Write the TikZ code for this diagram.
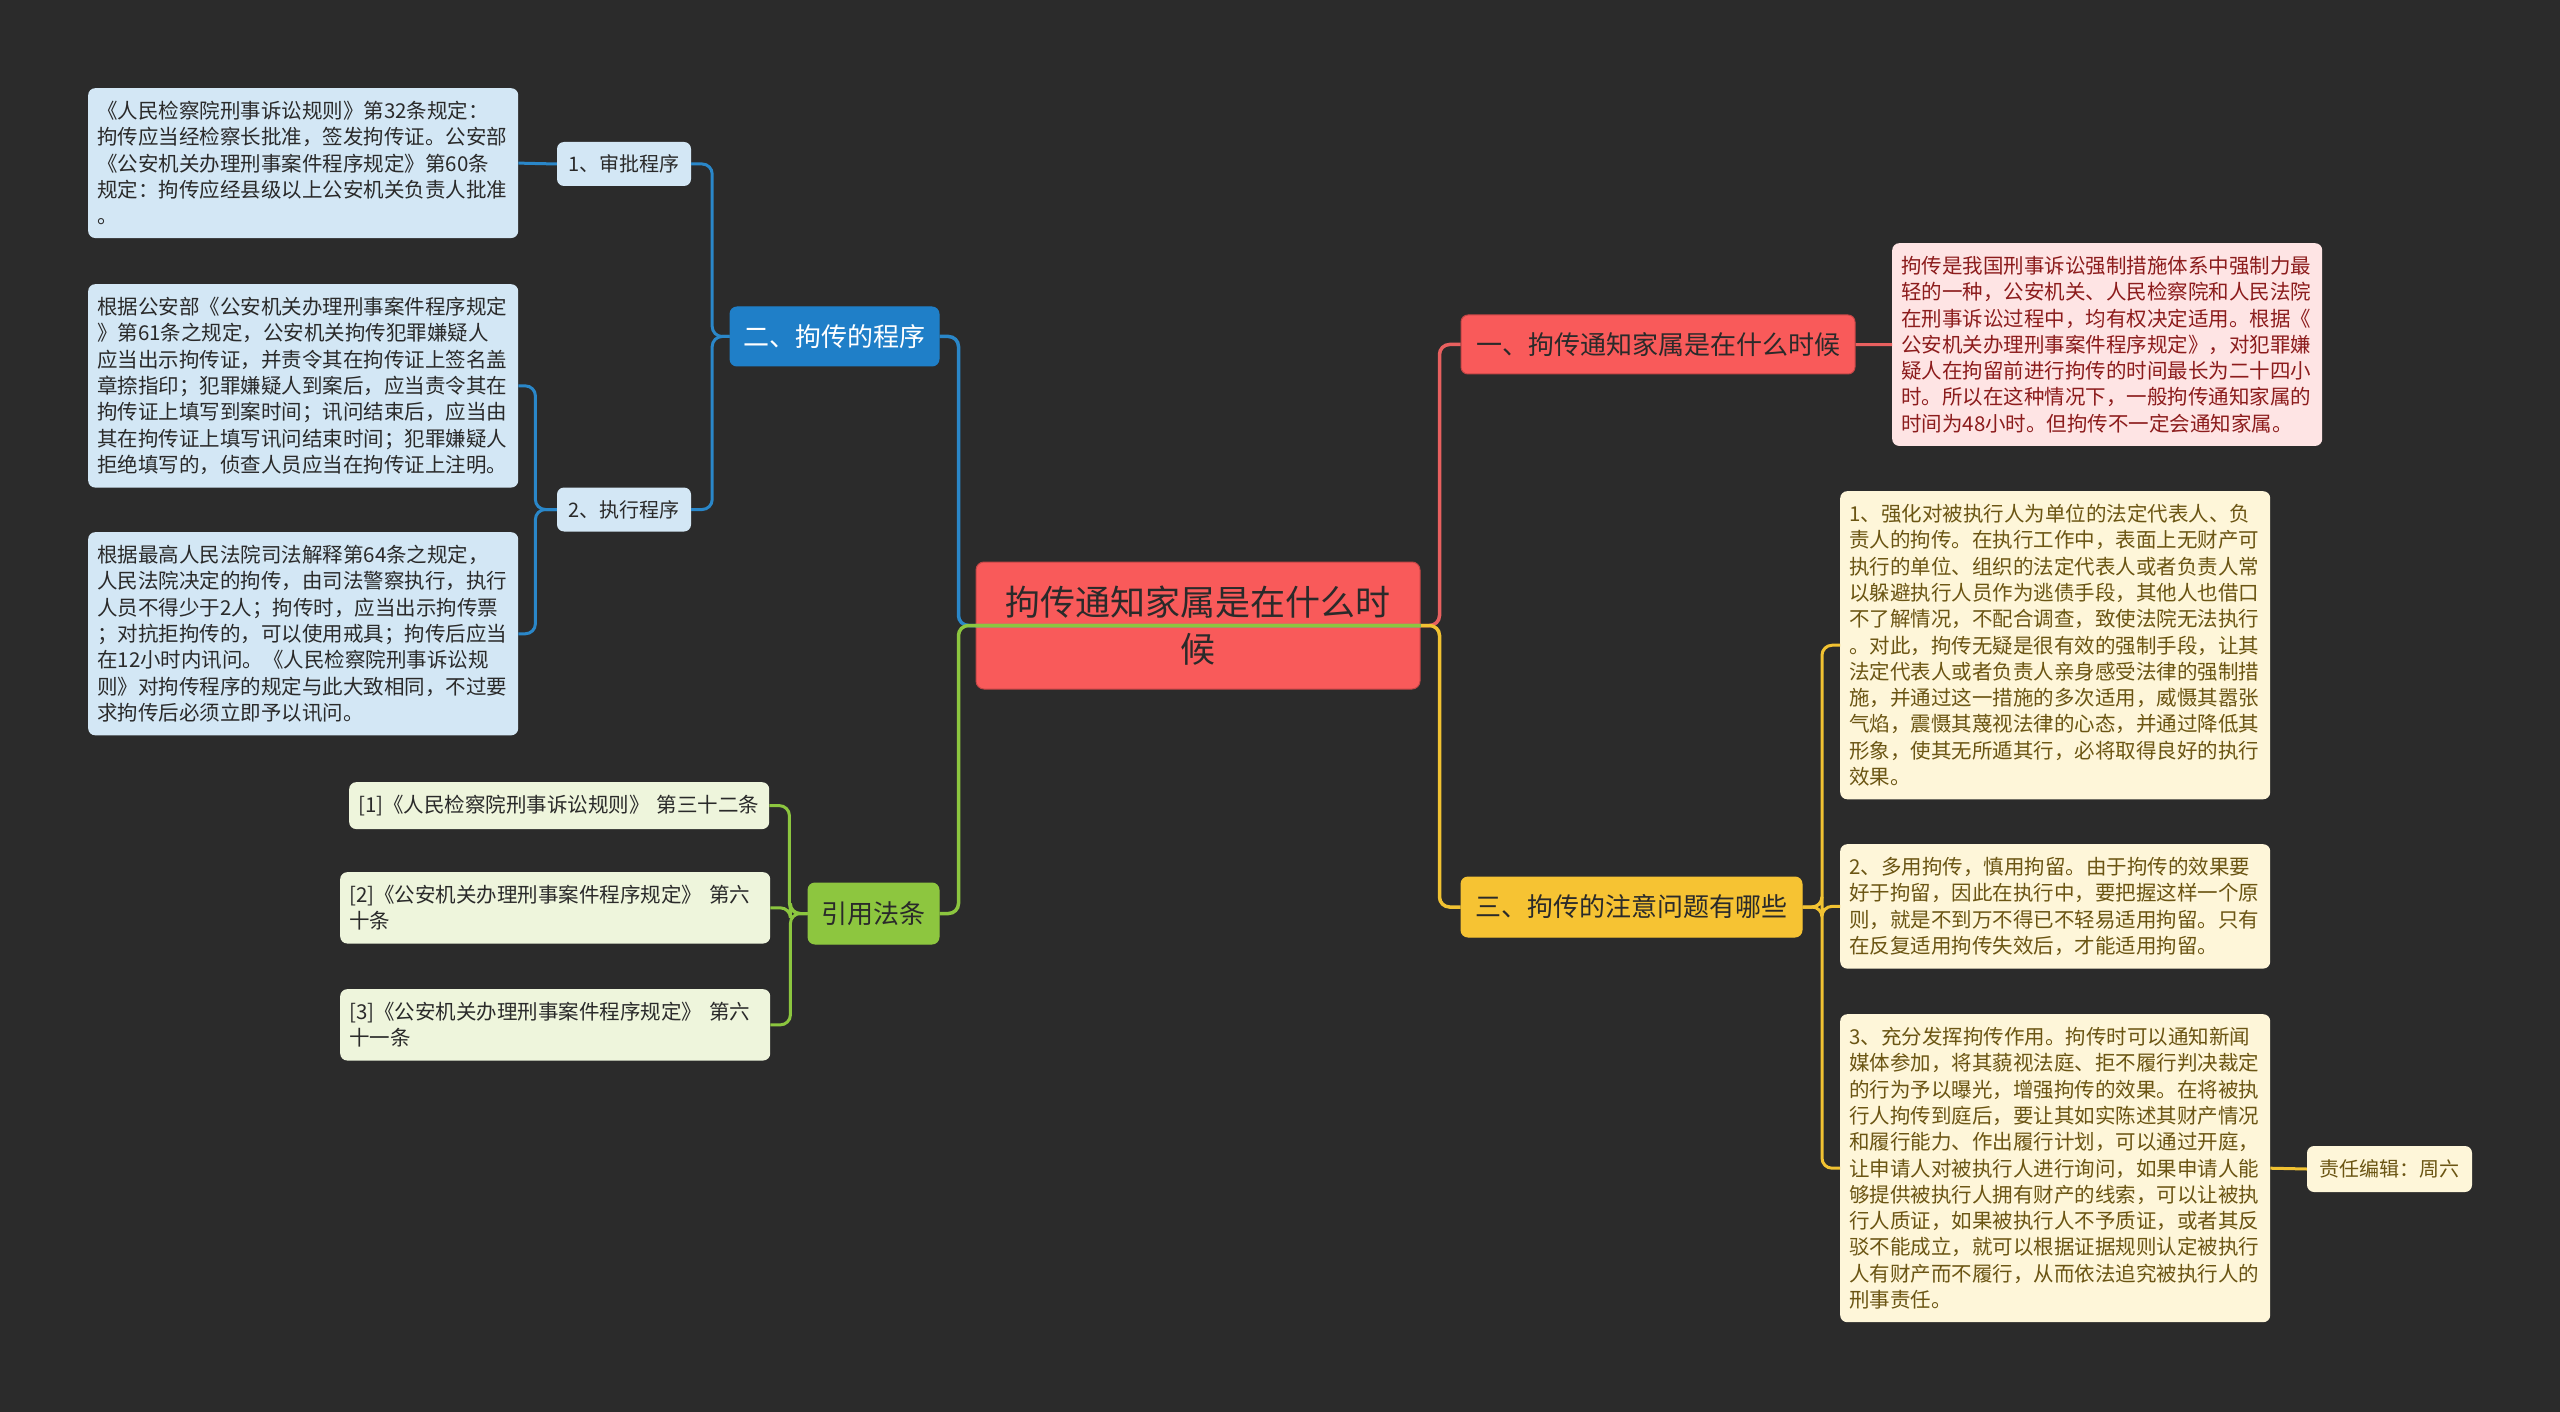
\documentclass[tikz,border=0pt]{standalone}
\usepackage{fontspec}
\setmainfont{Noto Sans CJK SC}
\usetikzlibrary{calc}
\definecolor{bgc}{HTML}{2B2B2B}
\definecolor{rootc}{HTML}{F95A5A}
\definecolor{rootd}{HTML}{C44646}
\definecolor{bluec}{HTML}{1F7FC8}
\definecolor{bluel}{HTML}{2A87C9}
\definecolor{redl}{HTML}{E8605F}
\definecolor{yelc}{HTML}{F6C333}
\definecolor{yell}{HTML}{F1C232}
\definecolor{grnc}{HTML}{8DC63F}
\definecolor{grnl}{HTML}{8CC63F}
\definecolor{lbluef}{HTML}{D3E7F5}
\definecolor{pinkf}{HTML}{FEE4E4}
\definecolor{pinkt}{HTML}{8C1C1C}
\definecolor{creamf}{HTML}{FEF6D9}
\definecolor{creamt}{HTML}{6B5513}
\definecolor{lgrnf}{HTML}{EEF5DC}
\definecolor{darkt}{HTML}{2A2A2A}
\tikzset{
  leafbox/.style={rounded corners=7pt, text width=412pt, align=left, inner xsep=9pt, inner ysep=13pt,
    font=\fontsize{20.5}{26.3}\selectfont, anchor=north west},
  leafblue/.style={leafbox, fill=lbluef, text=darkt},
  leafpink/.style={leafbox, fill=pinkf, text=pinkt},
  leafcream/.style={leafbox, fill=creamf, text=creamt},
  leafgreen/.style={leafbox, fill=lgrnf, text=darkt},
  smallbox/.style={rounded corners=7pt, inner sep=0pt, font=\fontsize{20}{24}\selectfont, align=center},
  topbox/.style={rounded corners=7pt, inner sep=0pt, font=\fontsize{26}{30}\selectfont, align=center, line width=1pt},
  lineone/.style={line width=3.5pt, rounded corners=10pt},
  linetwo/.style={line width=3pt, rounded corners=10pt},
}
\begin{document}
\begin{tikzpicture}[x=1pt,y=-1pt]
\fill[bgc] (0,0) rectangle (2560,1412);
\useasboundingbox (0,0) rectangle (2560,1412);

% root
\node[rounded corners=8pt, fill=rootc, draw=rootd, line width=1pt, minimum width=444pt, minimum height=127pt,
  inner sep=0pt, text width=430pt, align=center, text=darkt, font=\fontsize{35}{47}\selectfont]
  (root) at (1198,625.5) {拘传通知家属是在什么时\\候};

% level 1
\node[topbox, fill=rootc, draw=rootd, text=darkt, minimum width=394pt, minimum height=59pt] (yi) at (1658,344.5) {一、拘传通知家属是在什么时候};
\node[topbox, fill=bluec, draw=bluec, text=white, minimum width=209pt, minimum height=59pt] (er) at (834.5,336.5) {二、拘传的程序};
\node[topbox, fill=yelc, draw=yelc, text=darkt, minimum width=341pt, minimum height=60pt] (san) at (1631.5,907) {三、拘传的注意问题有哪些};
\node[topbox, fill=grnc, draw=grnc, text=darkt, minimum width=131pt, minimum height=61pt] (yy) at (873.5,913.5) {引用法条};

% level 2 (blue)
\node[smallbox, fill=lbluef, text=darkt, minimum width=134pt, minimum height=44pt] (sp1) at (624,164) {1、审批程序};
\node[smallbox, fill=lbluef, text=darkt, minimum width=134pt, minimum height=44pt] (sp2) at (624,509.5) {2、执行程序};

\node[leafblue] (la) at (88,88) {《人民检察院刑事诉讼规则》第32条规定：\\拘传应当经检察长批准，签发拘传证。公安部\\《公安机关办理刑事案件程序规定》第60条\\规定：拘传应经县级以上公安机关负责人批准\\。};
\node[leafblue] (lb) at (88,284) {根据公安部《公安机关办理刑事案件程序规定\\》第61条之规定，公安机关拘传犯罪嫌疑人\\应当出示拘传证，并责令其在拘传证上签名盖\\章捺指印；犯罪嫌疑人到案后，应当责令其在\\拘传证上填写到案时间；讯问结束后，应当由\\其在拘传证上填写讯问结束时间；犯罪嫌疑人\\拒绝填写的，侦查人员应当在拘传证上注明。};
\node[leafblue] (lc) at (88,532) {根据最高人民法院司法解释第64条之规定，\\人民法院决定的拘传，由司法警察执行，执行\\人员不得少于2人；拘传时，应当出示拘传票\\；对抗拒拘传的，可以使用戒具；拘传后应当\\在12小时内讯问。《人民检察院刑事诉讼规\\则》对拘传程序的规定与此大致相同，不过要\\求拘传后必须立即予以讯问。};

% refs
\node[leafgreen, text width=402pt] (r1) at (349,782) {[1]《人民检察院刑事诉讼规则》 第三十二条};
\node[leafgreen] (r2) at (340,872) {[2]《公安机关办理刑事案件程序规定》 第六\\十条};
\node[leafgreen] (r3) at (340,989) {[3]《公安机关办理刑事案件程序规定》 第六\\十一条};

% right leaves
\node[leafpink] (rl) at (1892,243) {拘传是我国刑事诉讼强制措施体系中强制力最\\轻的一种，公安机关、人民检察院和人民法院\\在刑事诉讼过程中，均有权决定适用。根据《\\公安机关办理刑事案件程序规定》，对犯罪嫌\\疑人在拘留前进行拘传的时间最长为二十四小\\时。所以在这种情况下，一般拘传通知家属的\\时间为48小时。但拘传不一定会通知家属。};
\node[leafcream] (y1) at (1840,491) {1、强化对被执行人为单位的法定代表人、负\\责人的拘传。在执行工作中，表面上无财产可\\执行的单位、组织的法定代表人或者负责人常\\以躲避执行人员作为逃债手段，其他人也借口\\不了解情况，不配合调查，致使法院无法执行\\。对此，拘传无疑是很有效的强制手段，让其\\法定代表人或者负责人亲身感受法律的强制措\\施，并通过这一措施的多次适用，威慑其嚣张\\气焰，震慑其蔑视法律的心态，并通过降低其\\形象，使其无所遁其行，必将取得良好的执行\\效果。};
\node[leafcream] (y2) at (1840,844) {2、多用拘传，慎用拘留。由于拘传的效果要\\好于拘留，因此在执行中，要把握这样一个原\\则，就是不到万不得已不轻易适用拘留。只有\\在反复适用拘传失效后，才能适用拘留。};
\node[leafcream] (y3) at (1840,1014) {3、充分发挥拘传作用。拘传时可以通知新闻\\媒体参加，将其藐视法庭、拒不履行判决裁定\\的行为予以曝光，增强拘传的效果。在将被执\\行人拘传到庭后，要让其如实陈述其财产情况\\和履行能力、作出履行计划，可以通过开庭，\\让申请人对被执行人进行询问，如果申请人能\\够提供被执行人拥有财产的线索，可以让被执\\行人质证，如果被执行人不予质证，或者其反\\驳不能成立，就可以根据证据规则认定被执行\\人有财产而不履行，从而依法追究被执行人的\\刑事责任。};
\node[smallbox, fill=creamf, text=creamt, minimum width=165pt, minimum height=46pt] (ed) at (2389.5,1169) {责任编辑：周六};

% level-1 connectors (drawn over the root, as in the reference)
\draw[lineone, redl] (root.west) -| ($(yi.west)+(-21,0)$) -- (yi.west);
\draw[lineone, yell] (root.west) -| ($(san.west)+(-21,0)$) -- (san.west);
\draw[lineone, bluel] (root.east) -| ($(er.east)+(19,0)$) -- (er.east);
\draw[lineone, grnl] (root.east) -| ($(yy.east)+(19,0)$) -- (yy.east);

% level-2 connectors
\draw[linetwo, bluel] (er.west) -| ($(sp1.east)+(21,0)$) -- (sp1.east);
\draw[linetwo, bluel] (er.west) -| ($(sp2.east)+(21,0)$) -- (sp2.east);
\draw[linetwo, bluel] (sp1.west) -- (la.east);
\draw[linetwo, bluel] (sp2.west) -| ($(lb.east)+(17,0)$) -- (lb.east);
\draw[linetwo, bluel] (sp2.west) -| ($(lc.east)+(17,0)$) -- (lc.east);
\draw[linetwo, grnl] (yy.west) -| ($(r1.east)+(20,0)$) -- (r1.east);
\draw[linetwo, grnl] (yy.west) -| ($(r2.east)+(20,0)$) -- (r2.east);
\draw[linetwo, grnl] (yy.west) -| ($(r3.east)+(20,0)$) -- (r3.east);
\draw[linetwo, redl] (yi.east) -- (rl.west);
\draw[linetwo, yell] (san.east) -| ($(y1.west)+(-18,0)$) -- (y1.west);
\draw[linetwo, yell] (san.east) -| ($(y2.west)+(-18,0)$) -- (y2.west);
\draw[linetwo, yell] (san.east) -| ($(y3.west)+(-18,0)$) -- (y3.west);
\draw[linetwo, yell] (y3.east) -- (ed.west);
\end{tikzpicture}
\end{document}
